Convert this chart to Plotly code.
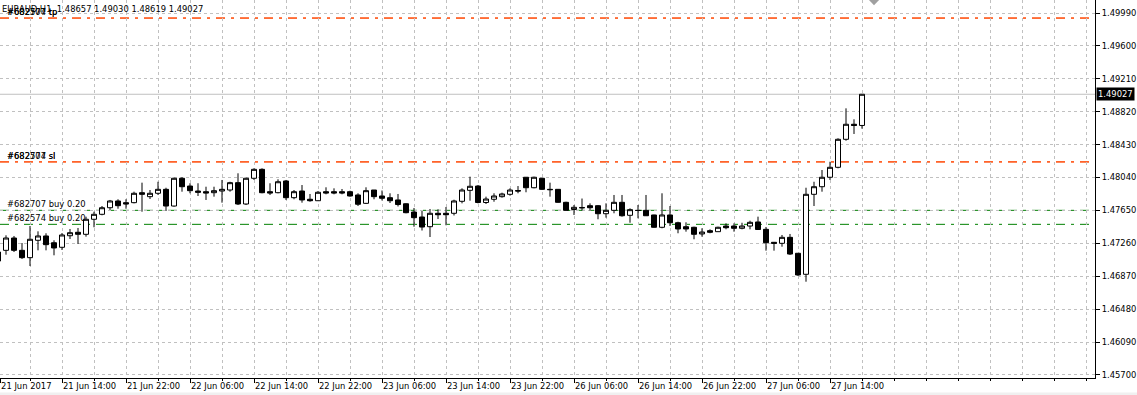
import pandas as pd
import plotly.graph_objects as go

symbol = "EURAUD"
period = "H1"

# hourly bars (no weekend bars), first bar 21 Jun 2017 06:00, last 27 Jun 2017 18:00
bar_times = [t for t in pd.date_range("2017-06-21 06:00", "2017-06-27 18:00", freq="h") if t.weekday() < 5]

opens = [1.47157, 1.47177, 1.47323, 1.47177, 1.47090, 1.47296, 1.47347, 1.47267, 1.47213, 1.47350,
         1.47391, 1.47367, 1.47545, 1.47604, 1.47682, 1.47762, 1.47742, 1.47742, 1.47860, 1.47813,
         1.47853, 1.47900, 1.47702, 1.48031, 1.47939, 1.47880, 1.47872, 1.47860, 1.47880, 1.47892,
         1.47979, 1.47726, 1.48031, 1.48137, 1.47872, 1.47860, 1.47999, 1.47801, 1.47880, 1.47782,
         1.47765, 1.47872, 1.47872, 1.47872, 1.47872, 1.47833, 1.47734, 1.47892, 1.47821, 1.47801,
         1.47774, 1.47729, 1.47631, 1.47572, 1.47457, 1.47616, 1.47616, 1.47616, 1.47758, 1.47888,
         1.47939, 1.47744, 1.47782, 1.47813, 1.47841, 1.47886, 1.48043, 1.47919, 1.48031, 1.47900,
         1.47900, 1.47746, 1.47661, 1.47685, 1.47706, 1.47706, 1.47611, 1.47651, 1.47746, 1.47592,
         1.47651, 1.47651, 1.47596, 1.47450, 1.47596, 1.47504, 1.47457, 1.47450, 1.47371, 1.47410,
         1.47398, 1.47465, 1.47465, 1.47438, 1.47465, 1.47513, 1.47426, 1.47272, 1.47260, 1.47331,
         1.47142, 1.46893, 1.47841, 1.47931, 1.48043, 1.48161, 1.48493, 1.48671, 1.48657]

highs = [1.47193, 1.47355, 1.47347, 1.47264, 1.47465, 1.47402, 1.47379, 1.47296, 1.47382, 1.47430,
         1.47442, 1.47576, 1.47635, 1.47702, 1.47774, 1.47782, 1.47782, 1.47872, 1.47979, 1.47892,
         1.47990, 1.47919, 1.48038, 1.48043, 1.47972, 1.47972, 1.47931, 1.47931, 1.48011, 1.47990,
         1.48090, 1.48038, 1.48149, 1.48149, 1.47972, 1.48019, 1.48011, 1.47892, 1.47951, 1.47845,
         1.47880, 1.47924, 1.47912, 1.47904, 1.47884, 1.47853, 1.47924, 1.47892, 1.47886, 1.47853,
         1.47845, 1.47734, 1.47679, 1.47643, 1.47667, 1.47663, 1.47691, 1.47777, 1.47912, 1.48050,
         1.47951, 1.47813, 1.47853, 1.47860, 1.47912, 1.47939, 1.48045, 1.48050, 1.48034, 1.47979,
         1.47904, 1.47753, 1.47714, 1.47791, 1.47734, 1.47714, 1.47734, 1.47833, 1.47833, 1.47675,
         1.47714, 1.47833, 1.47599, 1.47853, 1.47702, 1.47516, 1.47509, 1.47457, 1.47438, 1.47426,
         1.47457, 1.47497, 1.47497, 1.47504, 1.47528, 1.47576, 1.47454, 1.47276, 1.47359, 1.47371,
         1.47145, 1.47919, 1.47990, 1.48129, 1.48227, 1.48505, 1.48860, 1.48730, 1.49030]

lows = [1.47015, 1.47125, 1.47157, 1.47074, 1.46991, 1.47177, 1.47177, 1.47118, 1.47181, 1.47311,
        1.47252, 1.47339, 1.47450, 1.47592, 1.47655, 1.47670, 1.47670, 1.47734, 1.47635, 1.47785,
        1.47833, 1.47643, 1.47694, 1.47872, 1.47853, 1.47821, 1.47774, 1.47813, 1.47742, 1.47872,
        1.47714, 1.47714, 1.48011, 1.47853, 1.47833, 1.47853, 1.47774, 1.47782, 1.47742, 1.47753,
        1.47762, 1.47841, 1.47841, 1.47841, 1.47813, 1.47702, 1.47726, 1.47782, 1.47768, 1.47738,
        1.47697, 1.47616, 1.47457, 1.47412, 1.47335, 1.47548, 1.47474, 1.47590, 1.47734, 1.47765,
        1.47734, 1.47726, 1.47753, 1.47801, 1.47824, 1.47853, 1.47865, 1.47912, 1.47892, 1.47813,
        1.47742, 1.47647, 1.47596, 1.47649, 1.47647, 1.47545, 1.47564, 1.47616, 1.47576, 1.47504,
        1.47557, 1.47584, 1.47445, 1.47438, 1.47465, 1.47379, 1.47398, 1.47308, 1.47339, 1.47379,
        1.47398, 1.47426, 1.47398, 1.47426, 1.47426, 1.47420, 1.47173, 1.47173, 1.47220, 1.47122,
        1.46873, 1.46805, 1.47702, 1.47872, 1.48011, 1.48149, 1.48476, 1.48556, 1.48619]

closes = [1.47050, 1.47323, 1.47177, 1.47090, 1.47308, 1.47347, 1.47244, 1.47205, 1.47359, 1.47386,
          1.47367, 1.47545, 1.47604, 1.47682, 1.47762, 1.47706, 1.47726, 1.47853, 1.47841, 1.47853,
          1.47900, 1.47702, 1.48031, 1.47931, 1.47884, 1.47865, 1.47856, 1.47884, 1.47900, 1.47979,
          1.47726, 1.48031, 1.48137, 1.47860, 1.47856, 1.47990, 1.47801, 1.47872, 1.47774, 1.47765,
          1.47865, 1.47856, 1.47856, 1.47856, 1.47821, 1.47723, 1.47884, 1.47813, 1.47794, 1.47765,
          1.47720, 1.47623, 1.47564, 1.47453, 1.47616, 1.47599, 1.47599, 1.47762, 1.47892, 1.47936,
          1.47744, 1.47785, 1.47821, 1.47845, 1.47892, 1.47880, 1.47919, 1.48043, 1.47900, 1.47896,
          1.47746, 1.47651, 1.47687, 1.47681, 1.47682, 1.47611, 1.47651, 1.47746, 1.47587, 1.47659,
          1.47649, 1.47587, 1.47450, 1.47596, 1.47504, 1.47430, 1.47430, 1.47367, 1.47394, 1.47391,
          1.47450, 1.47445, 1.47438, 1.47465, 1.47509, 1.47424, 1.47267, 1.47260, 1.47331, 1.47133,
          1.46885, 1.47841, 1.47931, 1.48043, 1.48161, 1.48493, 1.48671, 1.48657, 1.49027]

# open orders
order_ids = [682707, 682574]
order_types = ["buy", "buy"]
order_lots = [0.20, 0.20]
order_prices = [1.47651, 1.47485]
order_sl = [1.48225, 1.48225]
order_tp = [1.49930, 1.49930]

# price scale
price_min, price_max = 1.456637, 1.501441
price_tick0, price_step = 1.45700, 0.00390
label_every = 8   # bars between time labels
grid_every = 4    # bars between vertical grid lines

FONT = "Tahoma, DejaVu Sans, sans-serif"
GRID = "#c0c0c0"
SLTP_COLOR = "#ff4500"
ORDER_COLOR = "#008000"
TXT = "#000000"

W, H = 1137, 395
ML, MR, MT, MB = 0, 42, 0, 17
plot_w = W - ML - MR

xs = list(range(len(bar_times)))
x_lo = 0.25
x_hi = x_lo + plot_w / 8.0  # 8 px per bar

fig = go.Figure()
fig.add_trace(go.Candlestick(
    x=xs, open=opens, high=highs, low=lows, close=closes,
    increasing=dict(line=dict(color="black", width=1), fillcolor="white"),
    decreasing=dict(line=dict(color="black", width=1), fillcolor="black"),
    whiskerwidth=0, showlegend=False, hoverinfo="skip",
))

# time labels
label_idx = [i for i in xs if i > 0 and i % label_every == 0]
tickvals = [x_lo + 0.01] + label_idx
first = bar_times[0]
ticktext = [f"{first.day} {first:%b %Y}"] + [f"{bar_times[i].day} {bar_times[i]:%b %H:%M}" for i in label_idx]

dashdot = "9px,6px,3px,6px"
shapes = []
annotations = []
for oid, otype, lots, op, sl, tp in zip(order_ids, order_types, order_lots, order_prices, order_sl, order_tp):
    shapes.append(dict(type="line", xref="paper", x0=0, x1=1, yref="y", y0=op, y1=op,
                       line=dict(color=ORDER_COLOR, width=1, dash=dashdot), layer="between"))
    shapes.append(dict(type="line", xref="paper", x0=0, x1=1, yref="y", y0=sl, y1=sl,
                       line=dict(color=SLTP_COLOR, width=1, dash=dashdot), layer="between"))
    shapes.append(dict(type="line", xref="paper", x0=0, x1=1, yref="y", y0=tp, y1=tp,
                       line=dict(color=SLTP_COLOR, width=1, dash=dashdot), layer="between"))
    for txt, yv in [(f"#{oid} {otype} {lots:.2f}", op), (f"#{oid} sl", sl), (f"#{oid} tp", tp)]:
        annotations.append(dict(text=txt, xref="paper", x=6 / plot_w, xanchor="left",
                                yref="y", y=yv, yanchor="bottom", showarrow=False,
                                font=dict(family=FONT, size=8.4, color=TXT), borderpad=0))

last_close = closes[-1]
shapes.append(dict(type="line", xref="paper", x0=0, x1=1, yref="y", y0=last_close, y1=last_close,
                   line=dict(color=GRID, width=1), layer="between"))
# chart shift marker
shapes.append(dict(type="path", xref="paper", yref="paper",
                   path="M 0.7936 1 L 0.8028 1 L 0.7982 0.986 Z",
                   fillcolor="#a0a0a0", line=dict(width=0)))
# status strip at the very bottom
shapes.append(dict(type="rect", xref="paper", yref="paper", x0=0, x1=W / plot_w,
                   y0=-14.5 / (H - MB), y1=-17 / (H - MB), fillcolor="#f0f0f0", line=dict(width=0)))

# title line
annotations.append(dict(
    text=f"{symbol},{period}&nbsp;&nbsp;{opens[-1]:.5f} {highs[-1]:.5f} {lows[-1]:.5f} {closes[-1]:.5f}",
    xref="paper", x=1 / plot_w, xanchor="left", yref="paper", y=1, yanchor="top", yshift=-3,
    showarrow=False, font=dict(family=FONT, size=8.4, color=TXT), borderpad=0))
# current price box
annotations.append(dict(text=f"{last_close:.5f}", xref="paper", x=1, xanchor="left", xshift=1,
                        yref="y", y=last_close, yanchor="middle", showarrow=False,
                        bgcolor="#000000", font=dict(family=FONT, size=8.4, color="#ffffff"),
                        borderpad=1))

fig.update_layout(
    width=W, height=H,
    margin=dict(l=ML, r=MR, t=MT, b=MB, pad=0),
    paper_bgcolor="white", plot_bgcolor="white",
    showlegend=False, boxgap=0, boxgroupgap=0.375,
    shapes=shapes, annotations=annotations,
    xaxis=dict(
        range=[x_lo, x_hi], rangeslider=dict(visible=False),
        tickmode="array", tickvals=tickvals, ticktext=ticktext,
        ticks="outside", ticklen=4, tickcolor="black", tickwidth=1,
        ticklabelposition="outside right",
        tickfont=dict(family=FONT, size=8.4, color=TXT),
        showgrid=True, gridcolor=GRID, griddash="3px,3px", gridwidth=1,
        minor=dict(tick0=0, dtick=grid_every, ticks="outside", ticklen=2, tickcolor="black",
                   showgrid=True, gridcolor=GRID, griddash="3px,3px", gridwidth=1),
        showline=True, linecolor="black", linewidth=1, mirror=True,
        zeroline=False, fixedrange=True,
    ),
    yaxis=dict(
        range=[price_min, price_max], side="right",
        tickmode="linear", tick0=price_tick0, dtick=price_step, tickformat=".5f",
        ticks="outside", ticklen=4, tickcolor="black", tickwidth=1,
        tickfont=dict(family=FONT, size=8.4, color=TXT),
        showgrid=True, gridcolor=GRID, griddash="3px,3px", gridwidth=1,
        showline=True, linecolor="black", linewidth=1, mirror=False,
        zeroline=False, fixedrange=True,
    ),
)

fig.write_html("out.html")
